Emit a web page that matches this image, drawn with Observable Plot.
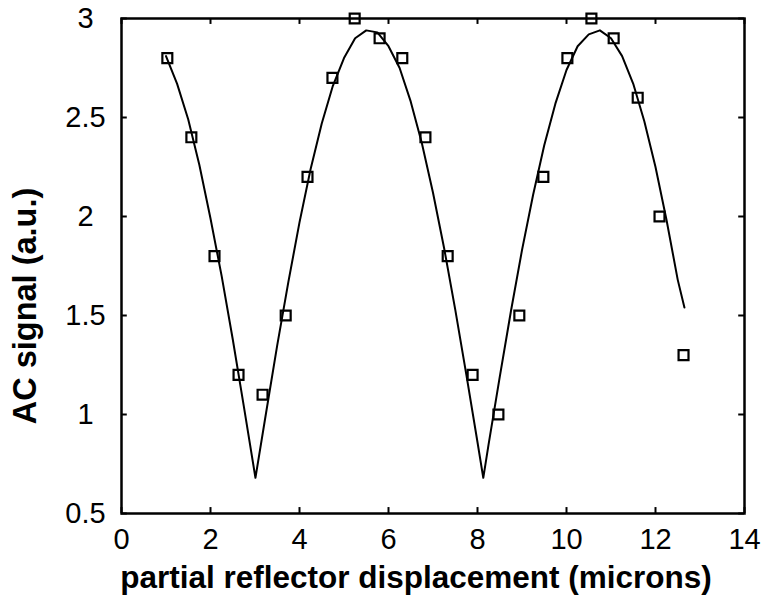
<!DOCTYPE html>
<html>
<head>
<meta charset="utf-8">
<script src="https://cdn.jsdelivr.net/npm/d3@7"></script>
<script src="https://cdn.jsdelivr.net/npm/@observablehq/plot@0.6"></script>
<style>
  html, body { margin: 0; padding: 0; background: #fff; }
  #chart { width: 764px; height: 596px; }
  svg { font-family: "Liberation Sans", Arial, Helvetica, sans-serif; }
</style>
</head>
<body>
<div id="chart"></div>
<script>
// Measured points (squares)
const dispX = [1.03, 1.57, 2.09, 2.63, 3.17, 3.69, 4.18, 4.74, 5.24, 5.80, 6.31, 6.83, 7.33, 7.89, 8.47, 8.94, 9.48, 10.02, 10.56, 11.06, 11.60, 12.09, 12.63];
const signalY = [2.8, 2.4, 1.8, 1.2, 1.1, 1.5, 2.2, 2.7, 3.0, 2.9, 2.8, 2.4, 1.8, 1.2, 1.0, 1.5, 2.2, 2.8, 3.0, 2.9, 2.6, 2.0, 1.3];

// Fitted curve
const fitX = [1.0, 1.25, 1.5, 1.75, 2.0, 2.25, 2.5, 2.75, 3.01, 3.25, 3.5, 3.75, 4.0, 4.25, 4.5, 4.75, 5.0, 5.25, 5.5, 5.75, 6.0, 6.25, 6.5, 6.75, 7.0, 7.25, 7.5, 7.75, 8.0, 8.13, 8.25, 8.5, 8.75, 9.0, 9.25, 9.5, 9.75, 10.0, 10.25, 10.5, 10.75, 11.0, 11.25, 11.5, 11.75, 12.0, 12.25, 12.5, 12.65];
const fitY = [2.81, 2.67, 2.49, 2.26, 1.99, 1.70, 1.38, 1.04, 0.68, 1.01, 1.35, 1.67, 1.97, 2.24, 2.47, 2.66, 2.80, 2.90, 2.94, 2.93, 2.86, 2.75, 2.58, 2.37, 2.12, 1.84, 1.53, 1.20, 0.86, 0.68, 0.85, 1.19, 1.52, 1.83, 2.11, 2.36, 2.57, 2.74, 2.86, 2.92, 2.94, 2.90, 2.81, 2.67, 2.48, 2.25, 1.98, 1.68, 1.54];

const xTicks = [0, 2, 4, 6, 8, 10, 12, 14];
const yTicks = [0.5, 1, 1.5, 2, 2.5, 3];
const yTickLabels = ["0.5", "1", "1.5", "2", "2.5", "3"];
const xLabel = "partial reflector displacement (microns)";
const yLabel = "AC signal (a.u.)";

const points = dispX.map((x, i) => ({x, y: signalY[i]}));
const fit = fitX.map((x, i) => ({x, y: fitY[i]}));

const xDom = [0, 14], yDom = [0.5, 3];
const tickLenX = 0.03, tickLenY = 0.13;

const chart = Plot.plot({
  width: 764,
  height: 596,
  marginLeft: 121,
  marginRight: 20,
  marginTop: 18,
  marginBottom: 83,
  style: {fontFamily: "'Liberation Sans', Arial, Helvetica, sans-serif", background: "#fff"},
  x: {domain: xDom},
  y: {domain: yDom},
  marks: [
    Plot.axisX({ticks: xTicks, tickSize: 0, tickPadding: 15, fontSize: 29, label: null, color: "#000"}),
    Plot.axisY({ticks: yTicks, tickFormat: d => yTickLabels[yTicks.indexOf(d)], tickSize: 0, tickPadding: 36, textAnchor: "middle", fontSize: 29, label: null, color: "#000"}),
    // inward ticks on all four sides
    Plot.ruleX(xTicks, {x: d => d, y1: yDom[0], y2: yDom[0] + tickLenX, stroke: "#000", strokeWidth: 2}),
    Plot.ruleX(xTicks, {x: d => d, y1: yDom[1], y2: yDom[1] - tickLenX, stroke: "#000", strokeWidth: 2}),
    Plot.ruleY(yTicks, {y: d => d, x1: xDom[0], x2: xDom[0] + tickLenY, stroke: "#000", strokeWidth: 2}),
    Plot.ruleY(yTicks, {y: d => d, x1: xDom[1], x2: xDom[1] - tickLenY, stroke: "#000", strokeWidth: 2}),
    Plot.frame({stroke: "#000", strokeWidth: 2.5}),
    Plot.line(fit, {x: "x", y: "y", stroke: "#000", strokeWidth: 2, curve: "linear"}),
    Plot.dot(points, {x: "x", y: "y", symbol: "square", r: 5.6, stroke: "#000", strokeWidth: 2.2, fill: "none"}),
    Plot.text([xLabel], {text: d => d, frameAnchor: "bottom", textAnchor: "middle", lineAnchor: "middle", dy: 64, dx: -17, fontSize: 31.5, fontWeight: "bold", fill: "#000"}),
    Plot.text([yLabel], {text: d => d, frameAnchor: "left", textAnchor: "middle", lineAnchor: "middle", rotate: -90, dx: -96, dy: 40, fontSize: 32.5, fontWeight: "bold", fill: "#000"})
  ]
});
document.getElementById("chart").appendChild(chart);
</script>
</body>
</html>
